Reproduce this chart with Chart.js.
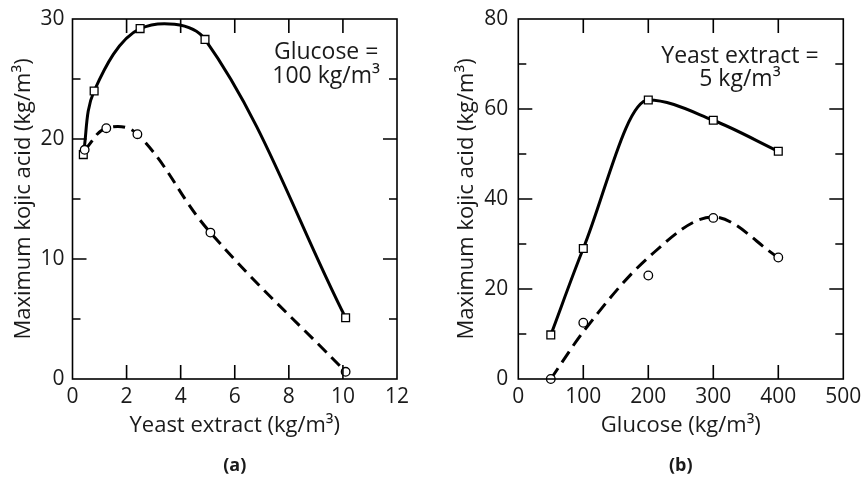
<!DOCTYPE html>
<html>
<head>
<meta charset="utf-8">
<script src="https://cdn.jsdelivr.net/npm/chart.js@4.4.1/dist/chart.umd.min.js"></script>
<style>
  body { margin: 0; background: #fff; }
  .panel { position: absolute; top: 0; width: 433px; height: 483px; }
</style>
</head>
<body>
<div class="panel" style="left:0"><canvas id="chartA" width="433" height="483"></canvas></div>
<div class="panel" style="left:433px"><canvas id="chartB" width="433" height="483"></canvas></div>
<script>
// (a) glucose held at 100 kg/m3, yeast extract varied
const aSquareX = [0.4, 0.8, 2.5, 4.9, 10.1];
const aSquareY = [18.7, 24.0, 29.2, 28.3, 5.1];
const aCircleX = [0.45, 1.25, 2.4, 5.1, 10.1];
const aCircleY = [19.1, 20.9, 20.4, 12.2, 0.6];
const aXTicks = [2, 4, 6, 8, 10];
const aYMajor = [10, 20];
const aYMinor = [5, 15, 25];

// (b) yeast extract held at 5 kg/m3, glucose varied
const bGlucose = [50, 100, 200, 300, 400];
const bSquareY = [9.8, 29.0, 62.0, 57.5, 50.6];
const bCircleY = [0, 12.5, 23.0, 35.8, 27.0];
// dashed curve in (b) is a fit, it misses the circles at 100 and 200
const bCircleFit = [0, 10.5, 27.0, 36.0, 27.0];
const bXTicks = [100, 200, 300, 400];
const bYMajor = [20, 40, 60];
const bYMinor = [10, 30, 50, 70];

const aNote = ['Glucose =', '100 kg/m³'];
const bNote = ['Yeast extract =', '5 kg/m³'];

const FONT = '"Open Sans", "DejaVu Sans", sans-serif';
const INK = '#1a1a1a';

Chart.defaults.font.family = FONT;
Chart.defaults.color = INK;

const pts = (xs, ys) => xs.map((x, i) => ({ x, y: ys[i] }));

// box round the plot with inward ticks on all four sides, plus the inset note and caption
function decorations(xTicks, yMajor, yMinor, note, noteX, noteY, letter) {
  const MAJOR = 14, MINOR = 8;
  return {
    id: 'decorations',
    afterDraw(chart) {
      const ctx = chart.ctx;
      const a = chart.chartArea;
      const xs = chart.scales.x, ys = chart.scales.y;
      ctx.save();
      ctx.setLineDash([]);
      ctx.strokeStyle = '#000';
      ctx.lineWidth = 1.6;
      ctx.strokeRect(a.left, a.top, a.right - a.left, a.bottom - a.top);
      ctx.beginPath();
      for (const v of xTicks) {
        const px = xs.getPixelForValue(v);
        ctx.moveTo(px, a.bottom); ctx.lineTo(px, a.bottom - MAJOR);
        ctx.moveTo(px, a.top);    ctx.lineTo(px, a.top + MAJOR);
      }
      for (const v of yMajor.concat(yMinor)) {
        const py = ys.getPixelForValue(v);
        const len = yMajor.includes(v) ? MAJOR : MINOR;
        ctx.moveTo(a.left, py);  ctx.lineTo(a.left + len, py);
        ctx.moveTo(a.right, py); ctx.lineTo(a.right - len, py);
      }
      ctx.stroke();

      ctx.fillStyle = INK;
      ctx.textAlign = 'center';
      ctx.textBaseline = 'alphabetic';
      ctx.font = '23px ' + FONT;
      note.forEach((line, i) => {
        ctx.fillText(line, xs.getPixelForValue(noteX), ys.getPixelForValue(noteY[i]));
      });
      ctx.font = 'bold 18px ' + FONT;
      ctx.textBaseline = 'middle';
      ctx.fillText(letter, (a.left + a.right) / 2, 466);
      ctx.restore();
    }
  };
}

function makeOptions(cfg) {
  return {
    responsive: false,
    animation: false,
    layout: { padding: { left: 0, right: cfg.padRight, top: 19, bottom: 0 } },
    plugins: {
      legend: { display: false },
      tooltip: { enabled: false }
    },
    scales: {
      x: {
        type: 'linear',
        min: cfg.xMin, max: cfg.xMax,
        afterFit(scale) { scale.height = 104; scale.paddingLeft = 0; scale.paddingRight = 0; },
        grid: { display: false, drawTicks: false },
        border: { display: false },
        ticks: { stepSize: cfg.xStep, padding: 5, maxRotation: 0, font: { size: 21 }, color: INK },
        title: { display: true, text: cfg.xTitle, font: { size: 22 }, color: INK, padding: { top: 0, bottom: 44 } }
      },
      y: {
        min: 0, max: cfg.yMax,
        afterFit(scale) { scale.width = cfg.yWidth; scale.paddingTop = 0; scale.paddingBottom = 0; },
        grid: { display: false, drawTicks: false },
        border: { display: false },
        ticks: { stepSize: cfg.yStep, padding: cfg.yTickPad, font: { size: 21 }, color: INK },
        title: { display: true, text: 'Maximum kojic acid (kg/m³)', font: { size: 22 }, color: INK, padding: { top: cfg.yTitlePad, bottom: 0 } }
      }
    }
  };
}

const solid = { borderColor: '#000', borderWidth: 3, pointBorderColor: '#000', pointBackgroundColor: '#fff', pointBorderWidth: 1.3, clip: false };

new Chart(document.getElementById('chartA'), {
  type: 'line',
  data: {
    datasets: [
      Object.assign({}, solid, { data: pts(aCircleX, aCircleY), borderDash: [12, 7], pointStyle: 'circle', pointRadius: 4.3, tension: 0.4 }),
      Object.assign({}, solid, { data: pts(aSquareX, aSquareY), pointStyle: 'rect', pointRadius: 5.5, tension: 0.35 })
    ]
  },
  options: makeOptions({
    padRight: 36, yWidth: 72.5, yTickPad: 8, yTitlePad: 10.5,
    xMin: 0, xMax: 12, xStep: 2, yMax: 30, yStep: 10,
    xTitle: 'Yeast extract (kg/m³)'
  }),
  plugins: [decorations(aXTicks, aYMajor, aYMinor, aNote, 9.38, [26.7, 24.7], '(a)')]
});

new Chart(document.getElementById('chartB'), {
  type: 'line',
  data: {
    datasets: [
      Object.assign({}, solid, { data: pts(bGlucose, bCircleY), showLine: false, pointStyle: 'circle', pointRadius: 4.3 }),
      Object.assign({}, solid, { data: pts(bGlucose, bSquareY), pointStyle: 'rect', pointRadius: 5.5, cubicInterpolationMode: 'monotone' }),
      Object.assign({}, solid, { data: pts(bGlucose, bCircleFit), borderDash: [13, 7], pointRadius: 0, cubicInterpolationMode: 'monotone' })
    ]
  },
  options: makeOptions({
    padRight: 22.7, yWidth: 85.3, yTickPad: 10, yTitlePad: 21,
    xMin: 0, xMax: 500, xStep: 100, yMax: 80, yStep: 20,
    xTitle: 'Glucose (kg/m³)'
  }),
  plugins: [decorations(bXTicks, bYMajor, bYMinor, bNote, 341, [70.3, 65.1], '(b)')]
});
</script>
</body>
</html>
